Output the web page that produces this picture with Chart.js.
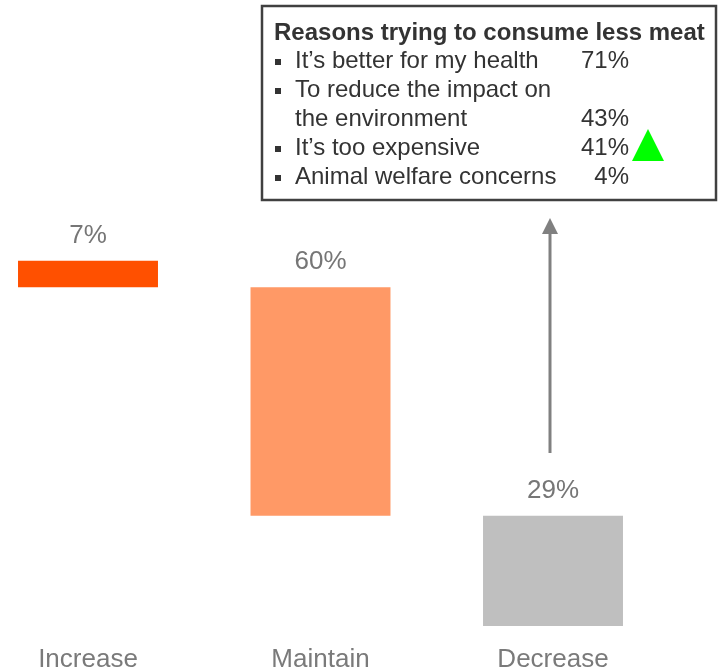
<!DOCTYPE html>
<html>
<head>
<meta charset="utf-8">
<script src="https://cdn.jsdelivr.net/npm/chart.js@4.4.0/dist/chart.umd.min.js"></script>
<style>
  html, body { margin: 0; padding: 0; background: #fff; }
  #wrap { width: 725px; height: 670px; position: relative; }
</style>
</head>
<body>
<div id="wrap"><canvas id="chart"></canvas></div>
<script>
// categories and shares (%)
const categories = ['Increase', 'Maintain', 'Decrease'];
const shares = [7, 60, 29];
const barColors = ['#FF5000', '#FF9966', '#BFBFBF'];

// reasons box
const reasonTitle = 'Reasons trying to consume less meat';
const reasonLabels = [
  ['It’s better for my health'],
  ['To reduce the impact on', 'the environment'],
  ['It’s too expensive'],
  ['Animal welfare concerns']
];
const reasonValues = [71, 43, 41, 4];
const risingReason = 2; // index marked with green triangle

// waterfall: stack from the right (Decrease at bottom) up to the left
const ranges = [];
let acc = 0;
for (let i = shares.length - 1; i >= 0; i--) {
  ranges[i] = [acc, acc + shares[i]];
  acc += shares[i];
}

const FONT = '"Liberation Sans", Arial, sans-serif';

const annotations = {
  id: 'annotations',
  afterDatasetsDraw(chart) {
    const ctx = chart.ctx;
    const meta = chart.getDatasetMeta(0);
    ctx.save();

    // value labels above bars
    ctx.font = '26px ' + FONT;
    ctx.fillStyle = '#767676';
    ctx.textAlign = 'center';
    ctx.textBaseline = 'alphabetic';
    meta.data.forEach((bar, i) => {
      const top = Math.min(bar.y, bar.base);
      ctx.fillText(shares[i] + '%', bar.x, top - 18);
    });

    // arrow from Decrease up to the box
    const ax = meta.data[2].x - 3;
    ctx.strokeStyle = '#808080';
    ctx.fillStyle = '#808080';
    ctx.lineWidth = 3;
    ctx.beginPath();
    ctx.moveTo(ax, 453);
    ctx.lineTo(ax, 232);
    ctx.stroke();
    ctx.beginPath();
    ctx.moveTo(ax, 218);
    ctx.lineTo(ax - 8, 234);
    ctx.lineTo(ax + 8, 234);
    ctx.closePath();
    ctx.fill();

    // reasons box
    ctx.strokeStyle = '#404040';
    ctx.lineWidth = 2.5;
    ctx.strokeRect(262, 6, 454, 194);

    ctx.fillStyle = '#333333';
    ctx.textAlign = 'left';
    ctx.font = 'bold 24px ' + FONT;
    ctx.fillText(reasonTitle, 274, 40);

    ctx.font = '24px ' + FONT;
    let y = 68;
    reasonLabels.forEach((lines, i) => {
      ctx.fillStyle = '#333333';
      ctx.fillRect(275, y - 9, 6, 6);
      lines.forEach((line, j) => {
        ctx.textAlign = 'left';
        ctx.fillText(line, 295, y);
        if (j === lines.length - 1) {
          ctx.textAlign = 'right';
          ctx.fillText(reasonValues[i] + '%', 629, y);
          if (i === risingReason) {
            ctx.fillStyle = '#00FF00';
            ctx.beginPath();
            ctx.moveTo(648, y - 26);
            ctx.lineTo(632, y + 6);
            ctx.lineTo(664, y + 6);
            ctx.closePath();
            ctx.fill();
            ctx.fillStyle = '#333333';
          }
        }
        y += 29;
      });
    });

    ctx.restore();
  }
};

new Chart(document.getElementById('chart'), {
  type: 'bar',
  data: {
    labels: categories,
    datasets: [{
      data: ranges,
      backgroundColor: barColors,
      borderWidth: 0,
      categoryPercentage: 1,
      barPercentage: 0.602,
      clip: false
    }]
  },
  options: {
    responsive: true,
    maintainAspectRatio: false,
    animation: false,
    layout: { padding: { left: 88, right: 172, top: 245.5, bottom: -23 } },
    plugins: { legend: { display: false }, tooltip: { enabled: false } },
    scales: {
      x: {
        offset: false,
        grid: { display: false, drawTicks: false },
        border: { display: false },
        ticks: {
          color: '#7a7a7a',
          padding: 20.5,
          font: { family: FONT, size: 26, lineHeight: 1 },
          maxRotation: 0,
          autoSkip: false
        }
      },
      y: {
        display: false,
        min: 0,
        max: 100
      }
    }
  },
  plugins: [annotations]
});
</script>
</body>
</html>
